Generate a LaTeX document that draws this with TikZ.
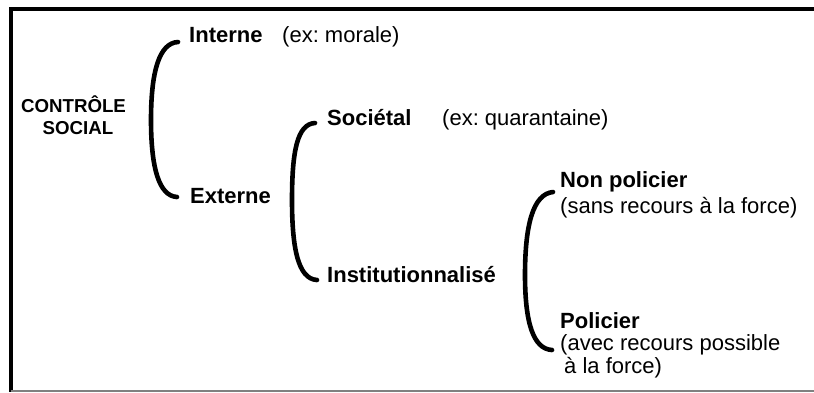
\documentclass[tikz,border=0pt]{standalone}
\usepackage{fontspec}
\setmainfont{Liberation Sans}
\frenchspacing
\begin{document}
\begin{tikzpicture}[x=1pt,y=-1pt,
  lbl/.style={anchor=base west,inner sep=0pt,font=\fontsize{22}{26}\selectfont\bfseries},
  note/.style={anchor=base west,inner sep=0pt,font=\fontsize{22}{26}\selectfont},
  title/.style={anchor=base,inner sep=0pt,font=\fontsize{18.7}{22}\selectfont\bfseries},
  brace/.style={line width=4.6pt,line cap=round,line join=round}]
\useasboundingbox (0,0) rectangle (814,392);
% frame
\draw[line width=4pt] (814,8.7) -- (10.5,8.7) -- (10.5,392);
\draw[gray,line width=1.5pt] (10.5,391) -- (814,391);
% title
\node[title] (t1) at (73.5,112) {CONTRÔLE};
\node[title] (t2) at (78,134) {SOCIAL};
% level 1
\node[lbl] (interne) at (189,42) {Interne};
\node[note] (interneex) at (282,42) {(ex: morale)};
\node[lbl] (externe) at (190,203) {Externe};
% level 2
\node[lbl] (societal) at (327,125) {Sociétal};
\node[note] (societalex) at (442,125) {(ex: quarantaine)};
\node[lbl] (instit) at (327,282) {Institutionnalisé};
% level 3
\node[lbl] (nonpol) at (560,187) {Non policier};
\node[note] (sans) at (560,213) {(sans recours à la force)};
\node[lbl] (pol) at (560,328) {Policier};
\node[note] (avec) at (560,350) {(avec recours possible};
\node[note] (avec2) at (564,373) {à la force)};
% brace endpoints
\coordinate (b1t) at (178,42);
\coordinate (b1b) at (177,197);
\coordinate (b2t) at (315,123);
\coordinate (b2b) at (317,280);
\coordinate (b3t) at (553,192);
\coordinate (b3b) at (552,350);
% braces
\draw[brace] (b1t) .. controls (159,43) and (151,72) .. (151,120) .. controls (151,168) and (159,196) .. (b1b);
\draw[brace] (b2t) .. controls (297,124) and (292,152) .. (292,200) .. controls (292,248) and (298,279) .. (b2b);
\draw[brace] (b3t) .. controls (533,194) and (525,225) .. (525,275) .. controls (525,322) and (533,349) .. (b3b);
\end{tikzpicture}
\end{document}
